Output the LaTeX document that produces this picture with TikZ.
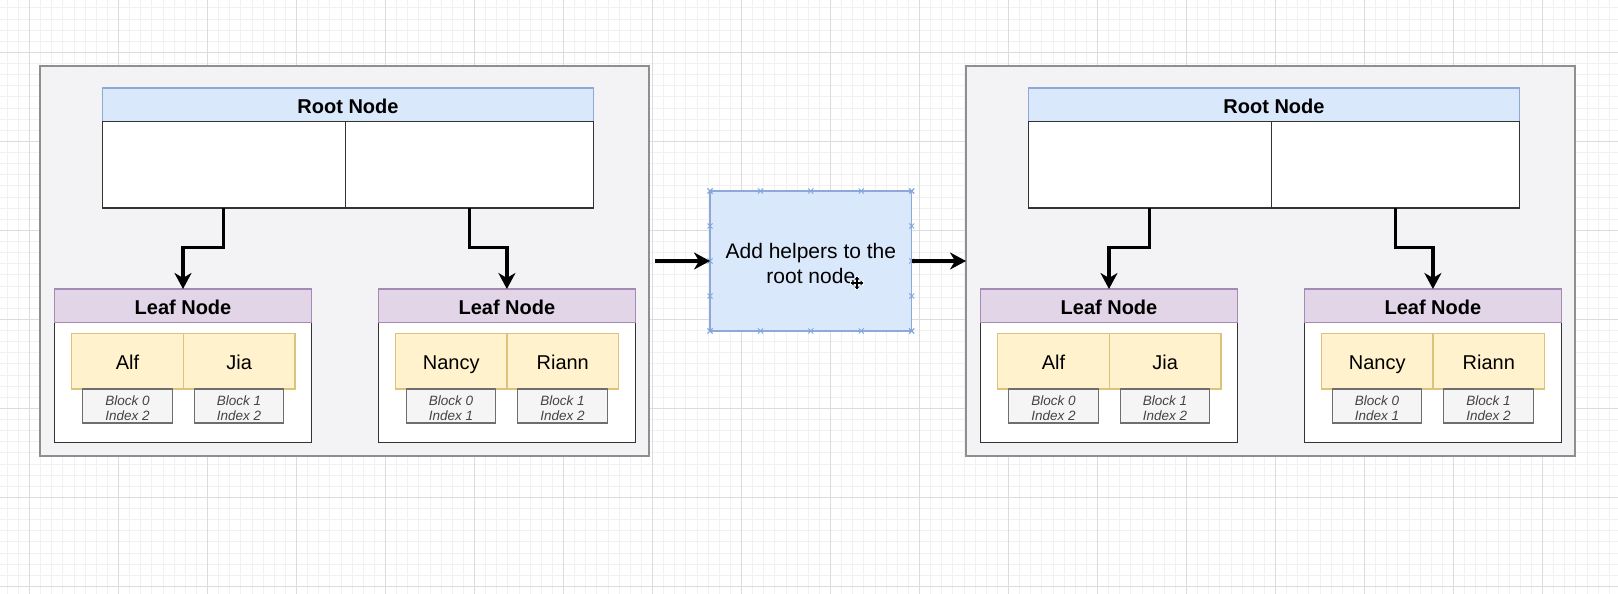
\documentclass[tikz,border=0pt]{standalone}
\usepackage{fontspec}
\setmainfont{Liberation Sans}
\usetikzlibrary{arrows.meta,calc}
\definecolor{gridminor}{HTML}{F1F1F1}
\definecolor{gridmajor}{HTML}{DCDCDC}
\definecolor{panelfill}{HTML}{F3F3F5}
\definecolor{panelborder}{HTML}{8F8F8F}
\definecolor{bodyborder}{HTML}{333333}
\definecolor{rootfill}{HTML}{DAE8FC}
\definecolor{rootborder}{HTML}{8EA9D6}
\definecolor{leaffill}{HTML}{E1D5E7}
\definecolor{leafborder}{HTML}{A58BB4}
\definecolor{cellfill}{HTML}{FFF2CC}
\definecolor{cellborder}{HTML}{DCC27A}
\definecolor{tagfill}{HTML}{F5F5F5}
\definecolor{tagborder}{HTML}{6E6E6E}
\definecolor{tagtext}{HTML}{444444}
\definecolor{handle}{HTML}{7EA6E0}
\tikzset{
  rect/.style={anchor=north west, inner sep=0pt, outer sep=0pt},
  panelbox/.style={rect, draw=panelborder, fill=panelfill, line width=1.5pt},
  headroot/.style={rect, draw=rootborder, fill=rootfill, line width=1.2pt, text height=17pt, text depth=0pt, font=\fontsize{20}{24}\selectfont\bfseries},
  headleaf/.style={rect, draw=leafborder, fill=leaffill, line width=1.2pt, text height=17pt, text depth=0pt, font=\fontsize{20}{24}\selectfont\bfseries},
  bodybox/.style={rect, draw=bodyborder, fill=white, line width=1.4pt},
  cellbox/.style={rect, draw=cellborder, fill=cellfill, line width=1.1pt, text height=16.5pt, text depth=0pt, font=\fontsize{20}{24}\selectfont},
  tagbox/.style={rect, draw=tagborder, fill=tagfill, line width=1.1pt, align=center, text=tagtext, font=\fontsize{13.5}{15.5}\selectfont\itshape},
  midbox/.style={rect, draw=rootborder, fill=rootfill, line width=1.2pt, align=center, font=\fontsize{21}{25}\selectfont},
  conn/.style={draw=black, line width=3.3pt, -{Stealth[length=16pt,width=17pt,inset=5pt]}},
  handlemark/.style={handle, line width=0.9pt},
}
\newcommand\tagstrut{\rule{0pt}{14pt}}
\newcommand\midstrut{\rule{0pt}{20pt}}
\newcommand\handlecross[2]{%
  \draw[handlemark] (#1-2.5,#2-2.5) -- (#1+2.5,#2+2.5) (#1-2.5,#2+2.5) -- (#1+2.5,#2-2.5);%
}
\newcommand\treepanel{%
  \node[panelbox, minimum width=609, minimum height=390] (panel) at (40,66) {};
  \node[headroot, minimum width=491.2, minimum height=33.5] (roothead) at (102.4,88) {Root Node};
  \node[bodybox, minimum width=242.8, minimum height=86.5] (rootL) at (102.4,121.5) {};
  \node[bodybox, minimum width=248.4, minimum height=86.5] (rootR) at (345.2,121.5) {};
  % left leaf
  \node[bodybox, minimum width=257, minimum height=120.4] (leafAbody) at (54.5,322.3) {};
  \node[headleaf, minimum width=257, minimum height=33.3] (leafAhead) at (54.5,289) {Leaf Node};
  \node[cellbox, minimum width=112, minimum height=55.7] (cellA1) at (71.5,333.3) {Alf};
  \node[cellbox, minimum width=111.5, minimum height=55.7] (cellA2) at (183.5,333.3) {Jia};
  \node[tagbox, minimum width=89.8, minimum height=34] (tagA1) at (82.6,389) {\tagstrut Block 0\\Index 2};
  \node[tagbox, minimum width=89.8, minimum height=34] (tagA2) at (194.1,389) {\tagstrut Block 1\\Index 2};
  % right leaf
  \node[bodybox, minimum width=257, minimum height=120.4] (leafBbody) at (378.4,322.3) {};
  \node[headleaf, minimum width=257, minimum height=33.3] (leafBhead) at (378.4,289) {Leaf Node};
  \node[cellbox, minimum width=111.6, minimum height=55.7] (cellB1) at (395.4,333.3) {Nancy};
  \node[cellbox, minimum width=111.5, minimum height=55.7] (cellB2) at (507,333.3) {Riann};
  \node[tagbox, minimum width=89.8, minimum height=34] (tagB1) at (406.1,389) {\tagstrut Block 0\\Index 1};
  \node[tagbox, minimum width=89.8, minimum height=34] (tagB2) at (517.6,389) {\tagstrut Block 1\\Index 2};
  % connectors
  \draw[conn] (rootL.south) -- (rootL.south |- 0,247.7) -| (leafAhead.north);
  \draw[conn] (rootR.south) -- (rootR.south |- 0,247.7) -| (leafBhead.north);
}
\begin{document}
\begin{tikzpicture}[x=1pt,y=-1pt]
  \useasboundingbox (0,0) rectangle (1618,594);
  \fill[white] (0,0) rectangle (1618,594);
  \begin{scope}
    \clip (0,0) rectangle (1618,594);
    \foreach \k in {0,...,146} {\draw[gridminor, line width=0.8pt] ({-3.875+11.125*\k},0) -- ++(0,594);}
    \foreach \k in {0,...,54} {\draw[gridminor, line width=0.8pt] (0,{-3.325+11.125*\k}) -- ++(1618,0);}
    \foreach \k in {0,...,18} {\draw[gridmajor, line width=1.1pt] ({29.5+89*\k},0) -- ++(0,594);}
    \foreach \k in {0,...,6} {\draw[gridmajor, line width=1.1pt] (0,{52.3+89*\k}) -- ++(1618,0);}
  \end{scope}
  \begin{scope}[name prefix=L-]
    \treepanel
  \end{scope}
  \begin{scope}[xshift=926pt, name prefix=R-]
    \treepanel
  \end{scope}
  \node[midbox, minimum width=201.7, minimum height=140] (mid) at (710,191) {\midstrut Add helpers to the\\root node};
  \foreach \i in {0,...,4} {
    \pgfmathsetmacro\hx{710+50.425*\i}
    \pgfmathsetmacro\hy{191+35*\i}
    \handlecross{\hx}{191}
    \handlecross{\hx}{331}
    \handlecross{710}{\hy}
    \handlecross{911.7}{\hy}
  }
  \draw[conn] ([xshift=6pt]L-panel.east) -- (mid.west);
  \draw[conn] (mid.east) -- (R-panel.west);
  % cursor
  \draw[white, line width=3.2pt] (857,276) -- (857,290) (850,283) -- (864,283);
  \draw[black, line width=1.1pt, {Triangle[length=3pt,width=4.5pt]}-{Triangle[length=3pt,width=4.5pt]}] (857,276.5) -- (857,289.5);
  \draw[black, line width=1.1pt, {Triangle[length=3pt,width=4.5pt]}-{Triangle[length=3pt,width=4.5pt]}] (850.5,283) -- (863.5,283);
\end{tikzpicture}
\end{document}
